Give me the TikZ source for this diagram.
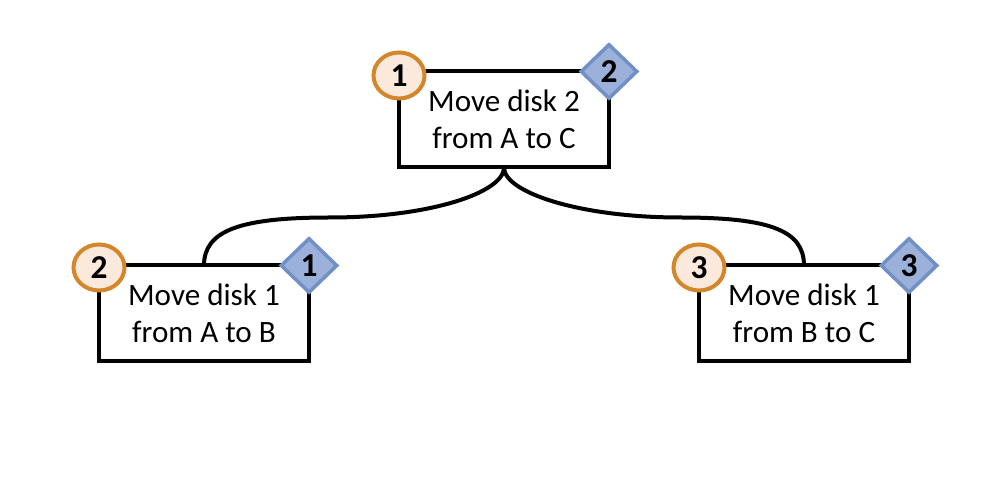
\documentclass[tikz,border=0pt]{standalone}
\usepackage{fontspec}
\setmainfont{Carlito}
\usepackage{tikz}
\usetikzlibrary{positioning,shapes.geometric}
\definecolor{orng}{HTML}{D4862B}
\definecolor{orngpale}{HTML}{FBEADC}
\definecolor{bluedia}{HTML}{9BB1DA}
\definecolor{blueline}{HTML}{7090C6}

\begin{document}
\begin{tikzpicture}[node distance=1.96cm and 1.8cm,
 box/.style={draw=black,line width=0.08cm,outer sep=0pt,minimum width=4.2cm,minimum height=1.92cm,align=center,
  font=\fontsize{17.7}{21.4}\selectfont},
 num/.style={ellipse,draw=orng,fill=orngpale,line width=0.08cm,minimum width=1.02cm,minimum height=0.92cm,inner sep=0pt,
  font=\fontsize{19}{19}\selectfont\bfseries},
 dia/.style={diamond,draw=blueline,fill=bluedia,line width=0.07cm,minimum width=1.14cm,minimum height=1.1cm,inner sep=0pt,
  font=\fontsize{19}{19}\selectfont\bfseries},
 link/.style={line width=0.08cm}]
 \useasboundingbox (0,0) rectangle (20,-10);
 \node[box] (d2ac) at (10.08,-2.39) {Move disk 2\\from A to C};
 \node[box,below left=of d2ac] (d1ab) {Move disk 1\\from A to B};
 \node[box,below right=of d2ac] (d1bc) {Move disk 1\\from B to C};
 % links to the two subcalls
 \coordinate[below left=1cm and 3.48cm of d2ac.south] (lmid);
 \coordinate[below right=1cm and 3.52cm of d2ac.south] (rmid);
 \draw[link] (d2ac.south) .. controls +(0,-0.5) and +(2,0) .. (lmid) .. controls +(-1.8,0) and +(0,0.7) .. (d1ab.north);
 \draw[link] (d2ac.south) .. controls +(0,-0.5) and +(-2,0) .. (rmid) .. controls +(1.8,0) and +(0,0.7) .. (d1bc.north);
 % call order and return order
 \node[num] (o1) at ([yshift=-0.08cm]d2ac.north west) {1};
 \node[num] (o2) at ([yshift=-0.04cm]d1ab.north west) {2};
 \node[num] (o3) at ([yshift=-0.04cm]d1bc.north west) {3};
 \node[dia] (r2) at (d2ac.north east) {2};
 \node[dia] (r1) at (d1ab.north east) {1};
 \node[dia] (r3) at (d1bc.north east) {3};
\end{tikzpicture}
\end{document}
